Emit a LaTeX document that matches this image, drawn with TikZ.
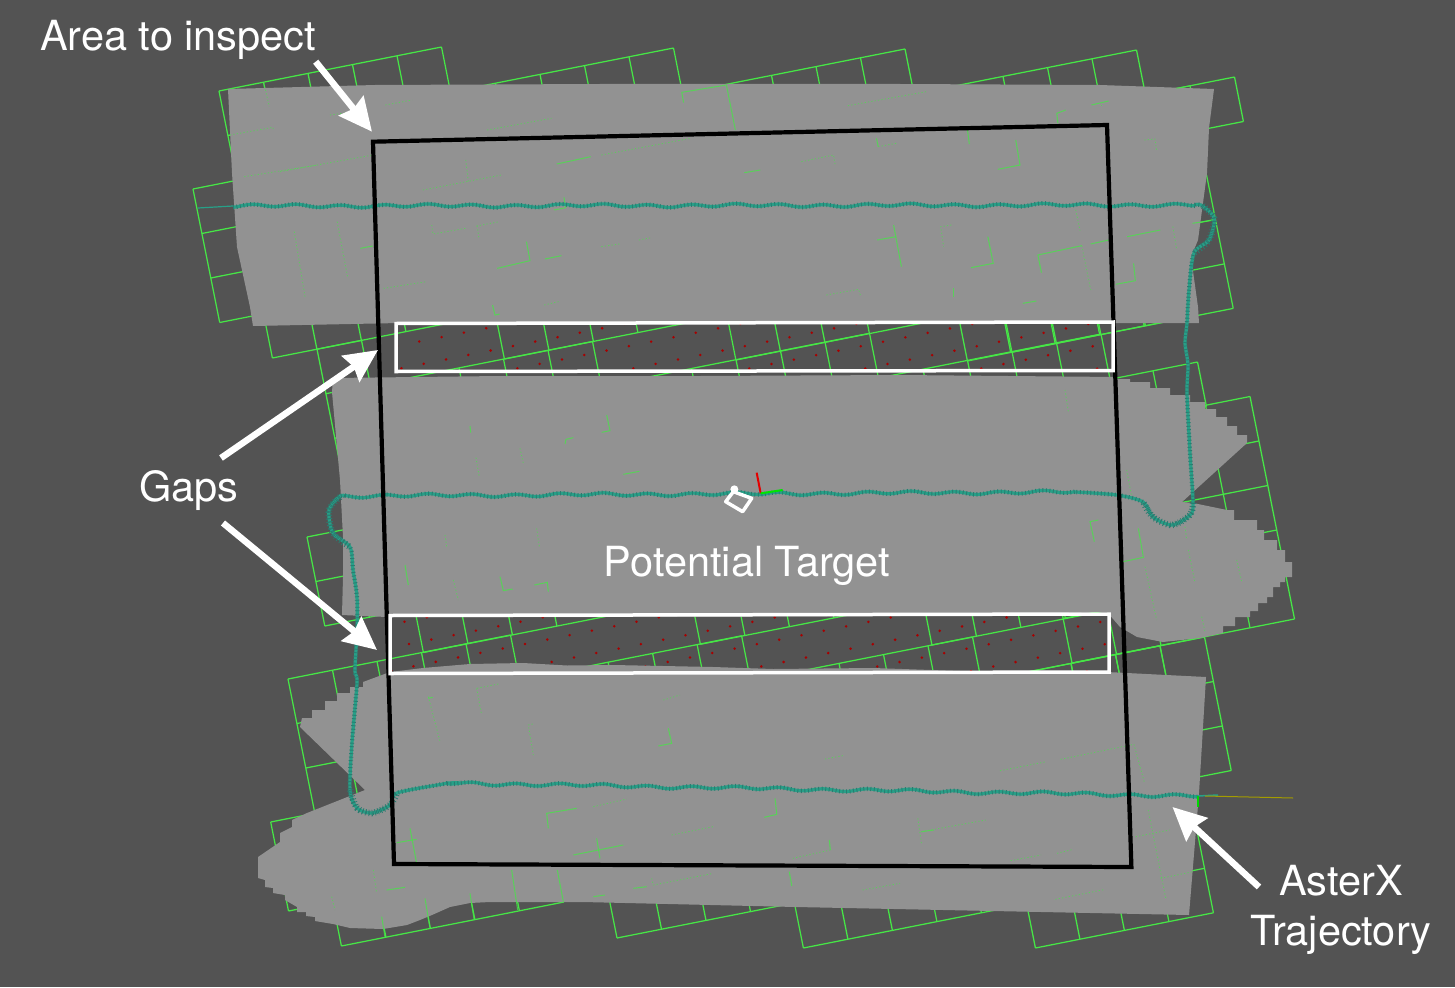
\documentclass[tikz,border=0pt]{standalone}
\usepackage{fontspec}
\setmainfont{TeX Gyre Heros}
\usetikzlibrary{arrows.meta,calc}
\definecolor{bgc}{HTML}{535353}
\definecolor{grayc}{HTML}{929292}
\definecolor{gridc}{HTML}{46E646}
\definecolor{tealc}{HTML}{27A088}
\definecolor{tealdark}{HTML}{2A7C70}
\definecolor{dotc}{HTML}{A80000}
\tikzset{
 z1/.style={shift={(180,40)},x=0.35714pt,y=-0.33333pt},
 z2/.style={shift={(730,40)},x=0.35714pt,y=-0.33333pt},
 z3/.style={shift={(250,650)},x=0.33333pt,y=-0.33333pt},
 z4/.style={shift={(750,650)},x=0.35714pt,y=-0.33333pt},
 z5/.style={shift={(680,450)},x=0.33333pt,y=-0.33333pt},
 z6/.style={shift={(1050,360)},x=0.33333pt,y=-0.33333pt},
 z7/.style={shift={(290,370)},x=0.33333pt,y=-0.33333pt},
 gridline/.style={draw=gridc,line width=1.25pt},
 bit/.style={draw=gridc,line width=1pt,opacity=.75},
 dot/.style={draw=gridc!70!grayc,line width=.8pt,dash pattern=on 1.2pt off 2.2pt},
 whitebox/.style={draw=white,line width=3.5pt,line join=miter},
 blackbox/.style={draw=black,line width=4.2pt,line join=miter},
 callout/.style={draw=white,line width=6.5pt,-{Stealth[length=33pt,width=31pt,inset=3.5pt]},shorten >=0pt},
 label/.style={text=white,font=\fontsize{41.5}{50}\selectfont,inner sep=0pt,align=center},
 trajbase/.style={draw=tealc,line width=3.2pt},
 trajtex/.style={draw=tealdark,line width=4.4pt,dash pattern=on .9pt off 2.6pt},
 trajturn/.style={draw=tealdark,line width=6.5pt,dash pattern=on .8pt off 2.4pt},
}
\newcommand\gridq[4]{%
 \begin{scope}[shift={(#1,#2)},x={(44.5pt,8.8pt)},y={(8.9pt,-44.5pt)}]
  \foreach \k in {0,...,#3} \draw[gridline] (\k,0) -- (\k,#4);
  \foreach \k in {0,...,#4} \draw[gridline] (0,\k) -- (#3,\k);
 \end{scope}}
\newcommand\redlattice[2]{%
 \foreach \i in {-6,...,36}{\foreach \j in {-3,...,9}{
  \fill[dotc] ({#1+\i*22.3+\j*4.45},{#2-\i*4.45+\j*22.3}) circle (1.4pt);}}}
% wavy stretch: x from #1 to #2, y from #3 to #4
\newcommand\wavy[5]{\draw[#5] plot[smooth,samples=260,domain=#1:#2] (\x,{#3+(#4-#3)*(\x-#1)/(#2-#1)+1.3*sin(8.2*\x)+.6*sin(2.3*\x)});}
\newcommand\trajall[1]{%
 \wavy{233}{1195}{206}{205}{#1}
 \draw[#1] plot[smooth,tension=.5] coordinates {(1195,205) (1201,205) (1214,218) (1209,240) (1194,253) (1189,290) (1187,323) (1185,343) (1188,365) (1187,393) (1190,453) (1193,503) (1190,515) (1172,525) (1153,517) (1143,502) (1117,495) (1075,492)};
 \wavy{345}{1075}{496}{492}{#1}
 \draw[#1] plot[smooth,tension=.5] coordinates {(345,496) (340,496) (329,510) (333,533) (350,547) (353,570) (357,597) (357,630) (355,670) (357,683) (352,743) (350,790) (357,808) (372,813) (390,805) (397,793) (443,784) (447,783)};
 \wavy{447}{1198}{783}{796}{#1}}
\begin{document}
\begin{tikzpicture}[x=1pt,y=-1pt]
\useasboundingbox (0,0) rectangle (1455,987);
\fill[bgc] (0,0) rectangle (1455,987);
% red dots in the gaps
\begin{scope}
 \clip (396,323) rectangle (1113,371);
 \redlattice{401.4}{368.3}
\end{scope}
\begin{scope}
 \clip (390,615) rectangle (1109,673);
 \redlattice{409}{644}
\end{scope}
% grids
\gridq{219}{91}{5}{6}
\gridq{193}{189}{5}{3}
\gridq{451}{92}{5}{6}
\gridq{682.5}{93}{5}{6}
\gridq{914}{94}{5}{6}
\gridq{1012}{121}{5}{1}
\gridq{984}{218.9}{5}{3}
\gridq{317}{349.2}{1}{3}
\gridq{307}{537}{5}{2}
\gridq{370}{385.5}{5}{6}
\gridq{647}{377.3}{5}{6}
\gridq{878.5}{378}{5}{6}
\gridq{975}{406}{5}{1}
\gridq{1027.5}{440.5}{5}{5}
\gridq{288}{679}{5}{6}
\gridq{270.7}{822}{5}{2}
\gridq{563.6}{671}{4}{6}
\gridq{750}{681}{5}{6}
\gridq{982}{681}{4}{6}
\gridq{982}{681}{5}{3}
% grey areas
\fill[grayc] (228,89) -- (375,85) -- (600,84) -- (730,84) -- (900,84) -- (1100,85) -- (1214,89) -- (1209,128) -- (1207,173) -- (1198,240) -- (1191,257) -- (1198,307) -- (1199,323) -- (1000,323) -- (700,323) -- (400,323) -- (253,326) -- (250,307) -- (237,247) -- (232,173) -- cycle;
\fill[grayc] (333,378) -- (500,376) -- (700,376) -- (900,375) -- (1117,377)
 |- (1130,379) |- (1150,382) |- (1170,388) |- (1190,395) |- (1205,402) |- (1216,409) |- (1227,417) |- (1237,426) |- (1247,435)
 -- (1247,443) -- (1182,502) -- (1193,503) -- (1227,510)
 -| (1234,520) -| (1257,530) -| (1264,540) -| (1277,550) -| (1285,562) -| (1292,566)
 -- (1292,577) -| (1285,582) -| (1280,587) -| (1273,597) -| (1267,603) -| (1258,611) -| (1250,617) -| (1235,626) -| (1223,633)
 -- (1200,638) -- (1163,642) -- (1137,637) -- (1120,627) -- (1107,612) -- (900,616) -- (600,617) -- (387,617) -- (342,615) -- (343,577) -- (343,537) -- (340,480) -- (332,392) -- cycle;
\fill[grayc] (390,672) -- (423,668) -- (470,664) -- (523,663) -- (567,665.5) -- (613,665) -- (713,667) -- (773,669) -- (873,668) -- (960,671) -- (1107,672) -- (1206,677) -- (1199,793) -- (1189,915) -- (796,907) -- (583,902) -- (490,902)
 -- (470,903) -- (450,907) -- (432,915) -- (420,920) -- (407,925) -- (383,929) -- (350,928) -- (333,924) -- (315,921) -- (315,917) -- (306,916) -- (306,912) -- (297,912) -- (297,907) -- (285,900) -- (285,895) -- (273,893) -- (273,888) -- (265,887) -- (265,880) -- (258,878) -- (258,857) -- (280,842) -- (280,833) -- (292,827) -- (292,820) -- (307,813)
 -- (365,790) -- (300,727) -- (302,718) -| (312,710) -| (325,701) -| (337,693) -| (350,687) -| (363,682) -- cycle;
% grid remnants inside the grey
\begin{scope}[z1]
 \draw[bit] (1410,188) -- (1405,157) -- (1530,135) -- (1555,270);
 \draw[bit] (970,605) -- (980,662) -- (888,685);
 \draw[bit] (1022,657) -- (1068,647);
 \draw[bit] (1055,372) -- (1150,350);
 \draw[bit] (1048,510) -- (1080,503) -- (1075,472);
 \draw[dot] (1180,345) -- (1430,295);
 \draw[dot] (800,360) -- (808,430);
 \draw[dot] (680,450) -- (900,405);
 \draw[dot] (705,555) -- (708,582) -- (800,565);
 \draw[dot] (830,558) -- (895,545);
 \draw[dot] (832,558) -- (837,595);
 \draw[dot] (320,575) -- (350,770);
 \draw[dot] (440,545) -- (470,715);
 \draw[dot] (140,285) -- (260,262) -- (262,272);
 \draw[dot] (420,225) -- (490,215);
 \draw[dot] (575,195) -- (650,180);
 \draw[bit] (505,625) -- (540,618);
 \draw[dot] (570,745) -- (690,725);
 \draw[bit] (875,795) -- (882,825) -- (895,822);
 \draw[dot] (1020,795) -- (1060,785);
 \draw[dot] (1180,620) -- (1230,612);
 \draw[dot] (1285,600) -- (1320,593);
 \draw[dot] (180,410) -- (385,375);
 \draw[dot] (280,395) -- (540,345);
 \draw[dot] (235,130) -- (250,200);
 \draw[dot] (860,270) -- (1040,235);
\end{scope}
\begin{scope}[z2]
 \draw[bit] (40,398) -- (85,390);
 \draw[dot] (200,365) -- (290,345) -- (295,378);
 \draw[bit] (410,295) -- (415,320);
 \draw[dot] (415,320) -- (465,310);
 \draw[bit] (665,270) -- (670,312);
 \draw[bit] (800,300) -- (812,375) -- (750,388);
 \draw[bit] (940,210) -- (915,220) -- (918,250);
 \draw[bit] (1012,195) -- (1060,183);
 \draw[dot] (1040,185) -- (1040,205);
 \draw[dot] (1160,300) -- (1190,297) -- (1195,335);
 \draw[bit] (458,555) -- (480,680);
 \draw[bit] (412,600) -- (465,590);
 \draw[dot] (620,555) -- (590,560) -- (598,620);
 \draw[bit] (722,590) -- (737,670) -- (675,683);
 \draw[bit] (872,698) -- (862,645) -- (985,617);
 \draw[dot] (985,617) -- (1010,750);
 \draw[bit] (1010,612) -- (1060,600);
 \draw[bit] (1112,590) -- (1205,570);
 \draw[dot] (968,510) -- (980,572);
 \draw[dot] (1240,560) -- (1250,625);
 \draw[bit] (1080,733) -- (1135,722) -- (1130,670);
 \draw[bit] (820,790) -- (858,783);
 \draw[dot] (270,765) -- (360,748) -- (365,765);
 \draw[bit] (625,745) -- (625,770);
 \draw[bit] (1295,550) -- (1355,540);
 \draw[dot] (330,197) -- (550,155);
 \draw[bit] (1250,145) -- (1290,137);
\end{scope}
\begin{scope}[z3]
 \draw[dot] (535,140) -- (570,275);
 \draw[bit] (535,145) -- (548,142);
 \draw[dot] (745,102) -- (680,115);
 \draw[dot] (680,115) -- (695,195);
 \draw[dot] (848,222) -- (835,225) -- (850,315);
 \draw[dot] (1240,150) -- (1290,135);
 \draw[bit] (1255,235) -- (1265,280) -- (1225,288);
 \draw[bit] (980,475) -- (890,490) -- (895,535);
 \draw[dot] (1030,470) -- (1130,447);
 \draw[bit] (970,615) -- (1120,585);
 \draw[bit] (1040,565) -- (1050,625);
 \draw[bit] (440,578) -- (500,568);
 \draw[bit] (480,535) -- (500,640);
 \draw[dot] (1265,555) -- (1390,530);
 \draw[bit] (410,720) -- (465,712);
 \draw[bit] (1150,715) -- (1190,710);
 \draw[dot] (1205,685) -- (1210,705) -- (1390,670);
 \draw[bit] (1030,740) -- (1065,735);
 \draw[bit] (922,660) -- (940,755);
 \draw[bit] (785,660) -- (803,780);
 \draw[bit] (660,730) -- (672,808);
 \draw[bit] (525,745) -- (540,835);
 \draw[bit] (395,800) -- (405,862);
 \draw[dot] (245,740) -- (255,780);
 \draw[dot] (370,660) -- (380,730);
\end{scope}
\begin{scope}[z4]
 \draw[bit] (70,445) -- (75,493) -- (40,502);
 \draw[dot] (120,625) -- (225,600);
 \draw[bit] (225,600) -- (222,570);
 \draw[dot] (470,505) -- (480,580);
 \draw[bit] (480,545) -- (515,540);
 \draw[bit] (110,665) -- (117,708);
 \draw[dot] (870,328) -- (1075,283);
 \draw[dot] (1075,283) -- (1105,400);
 \draw[dot] (1080,560) -- (1175,540);
 \draw[dot] (1150,685) -- (1240,665);
 \draw[dot] (1115,480) -- (1165,750);
 \draw[dot] (855,748) -- (995,718);
 \draw[dot] (315,720) -- (420,700);
 \draw[dot] (730,632) -- (815,615);
 \draw[dot] (860,610) -- (905,598);
 \draw[dot] (210,327) -- (260,317);
 \draw[dot] (700,362) -- (830,335);
 \draw[dot] (480,545) -- (660,510);
\end{scope}
\begin{scope}[z7]
 \draw[bit] (950,135) -- (960,182) -- (935,187);
 \draw[bit] (540,168) -- (542,188);
 \draw[bit] (825,222) -- (828,208) -- (850,203);
 \draw[bit] (1000,313) -- (1048,304);
 \draw[bit] (345,585) -- (355,645);
 \draw[bit] (630,620) -- (640,662) -- (668,657);
 \draw[bit] (733,645) -- (772,637) -- (775,665);
 \draw[dot] (740,475) -- (748,530);
 \draw[dot] (558,263) -- (568,322);
 \draw[dot] (465,495) -- (470,530);
 \draw[dot] (690,235) -- (700,280);
 \draw[dot] (490,630) -- (505,690);
\end{scope}
\begin{scope}[z6]
 \draw[bit] (145,480) -- (120,485) -- (133,545);
 \draw[bit] (265,505) -- (280,592) -- (220,605);
 \draw[dot] (230,330) -- (245,410);
 \draw[dot] (415,570) -- (435,668);
 \draw[dot] (285,620) -- (320,780);
 \draw[dot] (560,600) -- (575,665);
 \draw[dot] (455,770) -- (465,815);
 \draw[dot] (45,90) -- (55,155);
 \draw[dot] (405,500) -- (410,540);
\end{scope}
% trajectory
\draw[tealc,line width=1.2pt] (198,208) -- (233,206);
\trajall{trajbase}
\trajall{trajtex}
\draw[trajturn] plot[smooth,tension=.5] coordinates {(1203,206) (1214,218) (1209,240) (1194,253)};
\draw[trajturn] plot[smooth,tension=.5] coordinates {(1193,503) (1190,515) (1172,525) (1153,517) (1143,502)};
\draw[trajturn] plot[smooth,tension=.5] coordinates {(340,497) (329,510) (333,533) (350,547)};
\draw[trajturn] plot[smooth,tension=.5] coordinates {(350,790) (357,808) (372,813) (390,805) (397,793)};
\draw[tealc,line width=1.5pt] (1198,796) -- (1218,795);
\draw[olive!80!yellow,line width=1pt] (1205,796) -- (1293,798);
\draw[green!85!black,line width=1.2pt] (1198,796) -- (1198,807);
% robot marker
\begin{scope}[z5]
 \draw[white,line width=3.5pt,line join=round] (160,125) -- (215,145) -- (188,185) -- (137,155) -- cycle;
 \fill[white] (163,118) circle (4pt);
 \draw[red!90!black,line width=2pt] (230,68) -- (242,130);
 \draw[green!90!black,line width=2pt] (242,130) -- (308,120);
\end{scope}
% inspection area and gaps
\draw[blackbox] (373,141.7) -- (1107,125) -- (1131.4,867) -- (394,864) -- cycle;
\draw[whitebox] (396,323.5) -- (1113,322) -- (1113,370.5) -- (396,371.5) -- cycle;
\draw[whitebox] (390,615.5) -- (1109,614) -- (1109,672) -- (390,673.5) -- cycle;
% labels
\node[label,anchor=west] (area) at (40,40) {Area to inspect};
\node[label] (gaps) at (189,491) {Gaps};
\node[label] (target) at (747,566) {Potential Target};
\node[label] (aster) at (1341,910) {AsterX\\Trajectory};
% callouts
\coordinate (a1s) at (315.7,61.7);
\coordinate (a1e) at (372,131.7);
\coordinate (a2s) at (221,458);
\coordinate (a2e) at (378,350);
\coordinate (a3s) at (223,523);
\coordinate (a3e) at (377,650);
\coordinate (a4s) at (1259,887);
\coordinate (a4e) at (1172.5,807);
\draw[callout] (a1s) -- (a1e);
\draw[callout] (a2s) -- (a2e);
\draw[callout] (a3s) -- (a3e);
\draw[callout] (a4s) -- (a4e);
\end{tikzpicture}
\end{document}
